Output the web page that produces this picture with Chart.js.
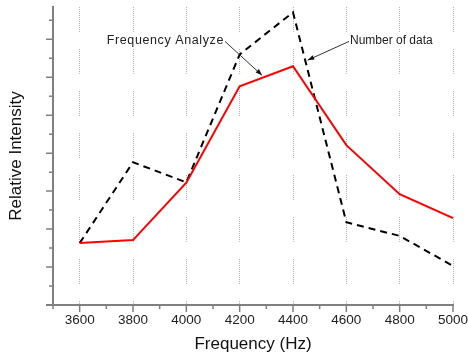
<!DOCTYPE html>
<html>
<head>
<meta charset="utf-8">
<script src="https://cdn.jsdelivr.net/npm/chart.js@4"></script>
<style>
    html, body { margin: 0; padding: 0; background: #fff; }
    #wrap { width: 468px; height: 358px; }
</style>
</head>
<body>
<div id="wrap"><canvas id="myChart" width="468" height="358"></canvas></div>
<script>
// values (y in arbitrary units, one unit = one major tick)
const freqs = [3600, 3800, 4000, 4200, 4400, 4600, 4800, 5000];
const freqAnalyze = [1.63, 1.71, 3.22, 5.76, 6.29, 4.21, 2.92, 2.29];
const numberOfData = [1.63, 3.76, 3.23, 6.60, 7.71, 2.18, 1.82, 1.03];
const xTickLabels = ["3600", "3800", "4000", "4200", "4400", "4600", "4800", "5000"];

const FONT = "'Liberation Sans', Arial, sans-serif";
const AXIS_COLOR = "#808080";

/* dotted-dash pattern for the vertical grid lines */
function gridDash() {
    let d = [];
    for (let i = 0; i < 13; i++) { d.push(1, 1); }
    d[d.length - 1] = 17;
    return d;
}

/* builds {x,y} points from the arrays */
function toPoints(values) {
    return freqs.map(function (f, i) { return { x: f, y: values[i] }; });
}

/* major and minor tick marks on both axes */
const tickMarks = {
    id: "tickMarks",
    afterDraw(chart) {
        const ctx = chart.ctx;
        const xs = chart.scales.x, ys = chart.scales.y;
        const area = chart.chartArea;
        ctx.save();
        ctx.strokeStyle = AXIS_COLOR;
        ctx.lineWidth = 1.5;
        ctx.beginPath();
        for (let v = 3500; v <= 5000; v += 100) {
            const px = xs.getPixelForValue(v);
            const len = (v - 3600) % 200 === 0 ? 7 : 4;
            ctx.moveTo(px, area.bottom);
            ctx.lineTo(px, area.bottom + len);
        }
        for (let v = 0; v <= 7.5; v += 0.5) {
            const py = ys.getPixelForValue(v);
            const len = v % 1 === 0 ? 7 : 4;
            ctx.moveTo(area.left, py);
            ctx.lineTo(area.left - len, py);
        }
        ctx.stroke();
        // x axis runs a little past the y axis
        ctx.lineWidth = 2;
        ctx.beginPath();
        ctx.moveTo(area.left - 7, area.bottom);
        ctx.lineTo(area.left, area.bottom);
        ctx.stroke();
        ctx.restore();
    }
};

/* text labels with arrows pointing at the two curves */
const notes = [
    { text: "Frequency Analyze", tx: 4145, ty: 6.97, ax: 4284, ay: 6.05, align: "right", size: 12.5, spacing: 0.6 },
    { text: "Number of data", tx: 4610, ty: 6.97, ax: 4455, ay: 6.45, align: "left", size: 12, spacing: 0 }
];

const arrowNotes = {
    id: "arrowNotes",
    afterDatasetsDraw(chart) {
        const ctx = chart.ctx;
        const xs = chart.scales.x, ys = chart.scales.y;
        ctx.save();
        ctx.textBaseline = "middle";
        for (let n of notes) {
            const x0 = xs.getPixelForValue(n.tx), y0 = ys.getPixelForValue(n.ty);
            const x1 = xs.getPixelForValue(n.ax), y1 = ys.getPixelForValue(n.ay);
            ctx.font = n.size + "px " + FONT;
            ctx.letterSpacing = n.spacing + "px";
            ctx.fillStyle = "#222";
            ctx.textAlign = n.align;
            ctx.fillText(n.text, n.align === "right" ? x0 - 1 : x0 + 1, y0);
            ctx.strokeStyle = "#333";
            ctx.lineWidth = 1;
            ctx.beginPath();
            ctx.moveTo(x0, y0 + 1);
            ctx.lineTo(x1, y1);
            ctx.stroke();
            const ang = Math.atan2(y1 - y0, x1 - x0);
            ctx.beginPath();
            ctx.moveTo(x1, y1);
            ctx.lineTo(x1 - 7 * Math.cos(ang - 0.35), y1 - 7 * Math.sin(ang - 0.35));
            ctx.lineTo(x1 - 7 * Math.cos(ang + 0.35), y1 - 7 * Math.sin(ang + 0.35));
            ctx.closePath();
            ctx.fillStyle = "#111";
            ctx.fill();
        }
        ctx.restore();
    }
};

new Chart("myChart", {
    type: "line",
    data: {
        datasets: [{
            label: "Frequency Analyze",
            data: toPoints(freqAnalyze),
            borderColor: "#ff0000",
            borderWidth: 2,
            pointRadius: 0,
            tension: 0,
            fill: false
        }, {
            label: "Number of data",
            data: toPoints(numberOfData),
            borderColor: "#000000",
            borderWidth: 2,
            borderDash: [7, 5],
            pointRadius: 0,
            tension: 0,
            fill: false
        }]
    },
    options: {
        responsive: false,
        animation: false,
        layout: { padding: { top: 7, left: 0, right: 0, bottom: 0 } },
        plugins: {
            legend: { display: false },
            tooltip: { enabled: false }
        },
        scales: {
            x: {
                type: "linear",
                min: 3500,
                max: 5000,
                afterFit: function (scale) {
                    // let the last label hang out a bit more, like the original
                    scale.paddingRight = 15;
                },
                grid: {
                    drawTicks: true,
                    tickLength: 4,
                    tickColor: "transparent",
                    lineWidth: 1,
                    color: function (c) {
                        const v = c.tick ? c.tick.value : 0;
                        return (v >= 3600 && (v - 3600) % 200 === 0) ? "#b4b4b4" : "transparent";
                    }
                },
                border: { display: true, color: AXIS_COLOR, width: 2, dash: gridDash() },
                ticks: {
                    stepSize: 100,
                    autoSkip: false,
                    maxRotation: 0,
                    padding: 3,
                    color: "#222",
                    font: { family: FONT, size: 13.5 },
                    callback: function (v) {
                        const i = freqs.indexOf(v);
                        return i >= 0 ? xTickLabels[i] : "";
                    }
                },
                title: {
                    display: true,
                    text: "Frequency (Hz)",
                    color: "#111",
                    font: { family: FONT, size: 17 },
                    padding: { top: 3.4, bottom: 3 }
                }
            },
            y: {
                min: 0,
                max: 7.85,
                grid: { display: false, drawTicks: false },
                border: { display: true, color: AXIS_COLOR, width: 2 },
                ticks: { display: false },
                title: {
                    display: true,
                    text: "Relative Intensity",
                    color: "#111",
                    font: { family: FONT, size: 17 },
                    padding: { top: 6, bottom: 26.6 }
                }
            }
        }
    },
    plugins: [tickMarks, arrowNotes]
});
</script>
</body>
</html>
